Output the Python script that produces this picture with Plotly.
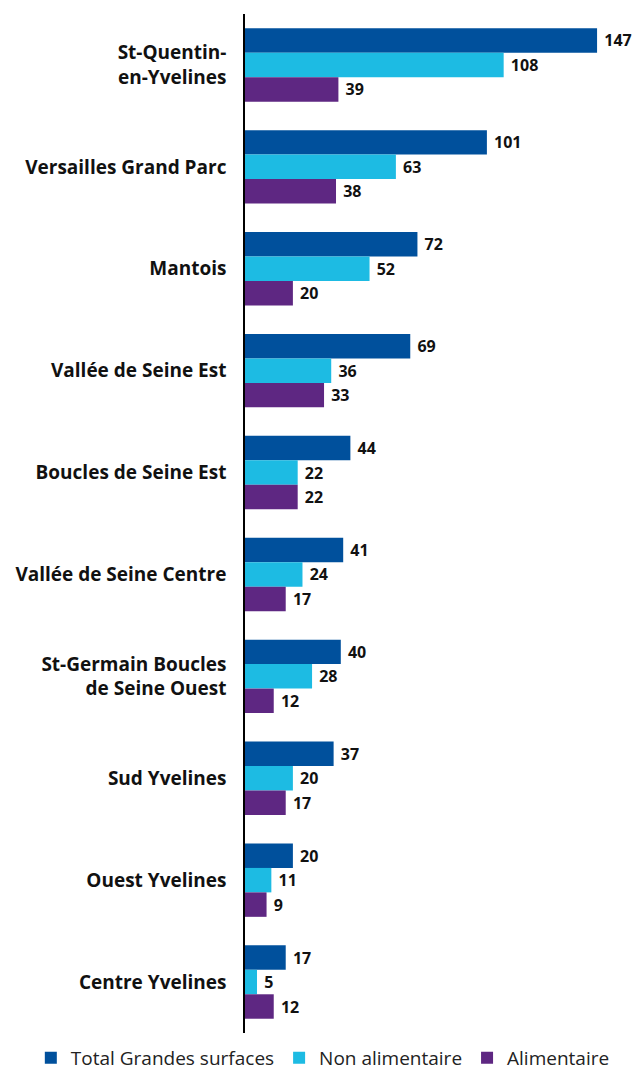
import plotly.graph_objects as go

categories = ["St-Quentin-<br>en-Yvelines", "Versailles Grand Parc", "Mantois", "Vallée de Seine Est",
              "Boucles de Seine Est", "Vallée de Seine Centre", "St-Germain Boucles<br>de Seine Ouest",
              "Sud Yvelines", "Ouest Yvelines", "Centre Yvelines"]
total = [147, 101, 72, 69, 44, 41, 40, 37, 20, 17]
non_alim = [108, 63, 52, 36, 22, 24, 28, 20, 11, 5]
alim = [39, 38, 20, 33, 22, 17, 12, 17, 9, 12]

series = [("Total Grandes surfaces", total, "#00509C"),
          ("Non alimentaire", non_alim, "#1DBBE3"),
          ("Alimentaire", alim, "#5E2782")]

fig = go.Figure()
for name, vals, col in series:
    fig.add_trace(go.Bar(
        y=categories, x=vals, name=name, orientation="h",
        marker=dict(color=col, line=dict(width=0)),
        text=[f"<b> {v}</b>" for v in vals], textposition="outside",
        constraintext="none",
        textfont=dict(family="Open Sans, sans-serif", size=16, color="#111111"),
        cliponaxis=False,
    ))

fig.update_layout(
    width=633, height=1077,
    barmode="group", bargap=0.28, bargroupgap=0,
    margin=dict(l=245, r=0, t=14, b=44, autoexpand=False),
    plot_bgcolor="white", paper_bgcolor="white",
    font=dict(family="Open Sans, sans-serif", color="#111111"),
    xaxis=dict(range=[0, 162], showgrid=False, showticklabels=False, zeroline=False, showline=False,
               automargin=False),
    yaxis=dict(autorange="reversed", showgrid=False, showline=True, linecolor="black", linewidth=1.5,
               ticks="", ticklabelstandoff=13, automargin=False,
               tickfont=dict(family="Open Sans, sans-serif", size=19, color="#111111", weight="bold")),
    legend=dict(orientation="h", x=-0.552, xanchor="left",
                y=-0.0245, yanchor="middle",
                font=dict(size=19, color="#222222"), itemwidth=30, traceorder="normal",
                tracegroupgap=0),
)

fig.write_html("out.html", config={"displayModeBar": False},
               post_script="document.body.style.margin='0';document.body.style.overflow='hidden';")
